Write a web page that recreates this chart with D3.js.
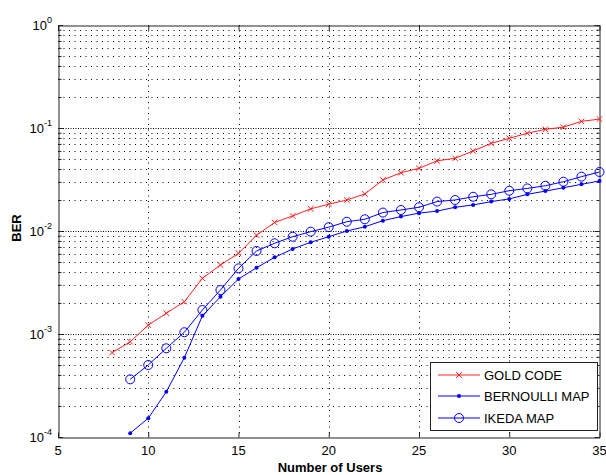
<!DOCTYPE html>
<html><head><meta charset="utf-8">
<script src="https://cdn.jsdelivr.net/npm/d3@7"></script>
<style>body{margin:0;background:#fff}svg{display:block}text{font-family:"Liberation Sans",Arial,sans-serif}</style>
</head><body>
<svg id="c" width="606" height="475"></svg>
<script>
const goldX = d3.range(8, 36);
const goldBER = [6.6e-4,8.4e-4,1.22e-3,1.59e-3,2.06e-3,3.47e-3,4.68e-3,6.07e-3,9.1e-3,1.21e-2,1.40e-2,1.64e-2,1.82e-2,2.0e-2,2.29e-2,3.13e-2,3.68e-2,4.06e-2,4.8e-2,5.08e-2,5.98e-2,7.1e-2,7.94e-2,8.9e-2,9.7e-2,1.02e-1,1.16e-1,1.22e-1];
const bernX = d3.range(9, 36);
const bernBER = [1.09e-4,1.52e-4,2.75e-4,5.89e-4,1.50e-3,2.30e-3,3.42e-3,4.40e-3,5.55e-3,6.69e-3,7.77e-3,8.8e-3,1.0e-2,1.10e-2,1.26e-2,1.38e-2,1.49e-2,1.56e-2,1.70e-2,1.79e-2,1.93e-2,2.05e-2,2.27e-2,2.44e-2,2.63e-2,2.84e-2,3.06e-2];
const ikedaX = d3.range(9, 36);
const ikedaBER = [3.63e-4,5.0e-4,7.26e-4,1.04e-3,1.71e-3,2.67e-3,4.34e-3,6.4e-3,7.6e-3,8.8e-3,9.85e-3,1.09e-2,1.23e-2,1.30e-2,1.51e-2,1.60e-2,1.70e-2,1.93e-2,2.0e-2,2.15e-2,2.27e-2,2.46e-2,2.59e-2,2.75e-2,3.01e-2,3.37e-2,3.74e-2];
const xTicks = [5,10,15,20,25,30,35];
const yExps = [0,-1,-2,-3,-4];
const legendLabels = ["GOLD CODE","BERNOULLI MAP","IKEDA MAP"];
const xLabel = "Number of Users", yLabel = "BER";

const svg = d3.select("#c");
const L = 58, R = 599.5, T = 25, B = 437;
const x = d3.scaleLinear().domain([5,35]).range([L,R]);
const y = d3.scaleLog().domain([1e-4,1]).range([B,T]);

// grid
const g = svg.append("g");
const minor = [];
for (let e=-4;e<0;e++) for (let k=2;k<=9;k++) minor.push(k*Math.pow(10,e));
g.selectAll(".mg").data(minor).join("line")
  .attr("x1",L).attr("x2",R).attr("y1",d=>Math.round(y(d))+0.5).attr("y2",d=>Math.round(y(d))+0.5)
  .attr("stroke","#000").attr("stroke-width",1).attr("stroke-dasharray","1,4.5");
g.selectAll(".Mg").data(yExps.slice(1,4)).join("line")
  .attr("x1",L).attr("x2",R).attr("y1",d=>Math.round(y(Math.pow(10,d)))+0.5).attr("y2",d=>Math.round(y(Math.pow(10,d)))+0.5)
  .attr("stroke","#000").attr("stroke-width",1).attr("stroke-dasharray","1,1.5");
g.selectAll(".xg").data(xTicks.slice(1,-1)).join("line")
  .attr("x1",d=>Math.round(x(d))+0.5).attr("x2",d=>Math.round(x(d))+0.5).attr("y1",T).attr("y2",B)
  .attr("stroke","#000").attr("stroke-width",1).attr("stroke-dasharray","1,4.5");

// axes box
const ax = svg.append("g");
const xb = d3.axisBottom(x).tickValues(xTicks).tickSizeInner(-5).tickSizeOuter(0).tickFormat("");
const xt = d3.axisTop(x).tickValues(xTicks).tickSizeInner(-5).tickSizeOuter(0).tickFormat("");
ax.append("g").attr("transform",`translate(0,${B+0.5})`).call(xb);
ax.append("g").attr("transform",`translate(0,${T+0.5})`).call(xt);
const yAll = minor.concat(yExps.map(e=>Math.pow(10,e)));
const yl = d3.axisLeft(y).tickValues(yAll).tickSizeInner(-3).tickSizeOuter(0).tickFormat("");
const yr = d3.axisRight(y).tickValues(yAll).tickSizeInner(-3).tickSizeOuter(0).tickFormat("");
ax.append("g").attr("transform",`translate(${L+0.5},0)`).call(yl);
ax.append("g").attr("transform",`translate(${R},0)`).call(yr);
ax.selectAll("path.domain").attr("stroke","#222");
ax.selectAll(".tick line").attr("stroke","#222");
ax.selectAll(".ymaj").data(yExps).join("line")
  .attr("x1",L).attr("x2",L+5).attr("y1",d=>Math.round(y(Math.pow(10,d)))+0.5).attr("y2",d=>Math.round(y(Math.pow(10,d)))+0.5).attr("stroke","#222");
ax.selectAll(".ymaj2").data(yExps).join("line")
  .attr("x1",R-5).attr("x2",R).attr("y1",d=>Math.round(y(Math.pow(10,d)))+0.5).attr("y2",d=>Math.round(y(Math.pow(10,d)))+0.5).attr("stroke","#222");

// x tick labels
svg.append("g").selectAll("text").data(xTicks).join("text")
  .attr("x",d=>x(d)).attr("y",455).attr("text-anchor","middle").attr("font-size","13px").text(d=>d);

// y tick labels 10^e
const yt = svg.append("g");
yExps.forEach(e=>{
  const t = yt.append("text").attr("x",52).attr("y",y(Math.pow(10,e))+5).attr("text-anchor","end").attr("font-size","13px");
  t.append("tspan").text("10");
  t.append("tspan").attr("font-size","9px").attr("dy",-7).text(e);
});

// axis labels
svg.append("text").attr("x",330).attr("y",472).attr("text-anchor","middle").attr("font-size","13px").attr("font-weight","bold").text(xLabel);
svg.append("text").attr("transform","translate(21,228) rotate(-90)").attr("text-anchor","middle").attr("font-size","13px").attr("font-weight","bold").text(yLabel);

// series
const line = d3.line().x(d=>x(d[0])).y(d=>y(d[1]));
const gold = goldX.map((v,i)=>[v,goldBER[i]]);
const bern = bernX.map((v,i)=>[v,bernBER[i]]);
const ike = ikedaX.map((v,i)=>[v,ikedaBER[i]]);
const red = "#ff2020", blue = "#0000ff";
svg.append("path").datum(gold).attr("d",line).attr("fill","none").attr("stroke",red).attr("stroke-width",1);
svg.append("path").datum(bern).attr("d",line).attr("fill","none").attr("stroke",blue).attr("stroke-width",1);
svg.append("path").datum(ike).attr("d",line).attr("fill","none").attr("stroke",blue).attr("stroke-width",1);
const cross = (sel,s)=>sel.attr("d",`M${-s},${-s}L${s},${s}M${-s},${s}L${s},${-s}`).attr("stroke",red).attr("fill","none");
svg.append("g").selectAll("path").data(gold).join("path").attr("transform",d=>`translate(${x(d[0])},${y(d[1])})`).call(cross,2.8);
svg.append("g").selectAll("circle").data(bern).join("circle").attr("cx",d=>x(d[0])).attr("cy",d=>y(d[1])).attr("r",2).attr("fill",blue);
svg.append("g").selectAll("circle").data(ike).join("circle").attr("cx",d=>x(d[0])).attr("cy",d=>y(d[1])).attr("r",4.5).attr("fill","none").attr("stroke",blue);

// legend
const lg = svg.append("g");
lg.append("rect").attr("x",430.5).attr("y",362.5).attr("width",167).attr("height",68).attr("fill","#fff").attr("stroke","#222");
const ly = [375,396,418];
legendLabels.forEach((lab,i)=>{
  const c = i===0?red:blue;
  lg.append("line").attr("x1",438).attr("x2",480).attr("y1",ly[i]).attr("y2",ly[i]).attr("stroke",c);
  if(i===0) lg.append("path").attr("transform",`translate(459,${ly[i]})`).call(cross,2.8);
  if(i===1) lg.append("circle").attr("cx",459).attr("cy",ly[i]).attr("r",2).attr("fill",blue);
  if(i===2) lg.append("circle").attr("cx",459).attr("cy",ly[i]).attr("r",4.5).attr("fill","none").attr("stroke",blue);
  lg.append("text").attr("x",484).attr("y",ly[i]+5).attr("font-size","13px").text(lab);
});
</script>
</body></html>
